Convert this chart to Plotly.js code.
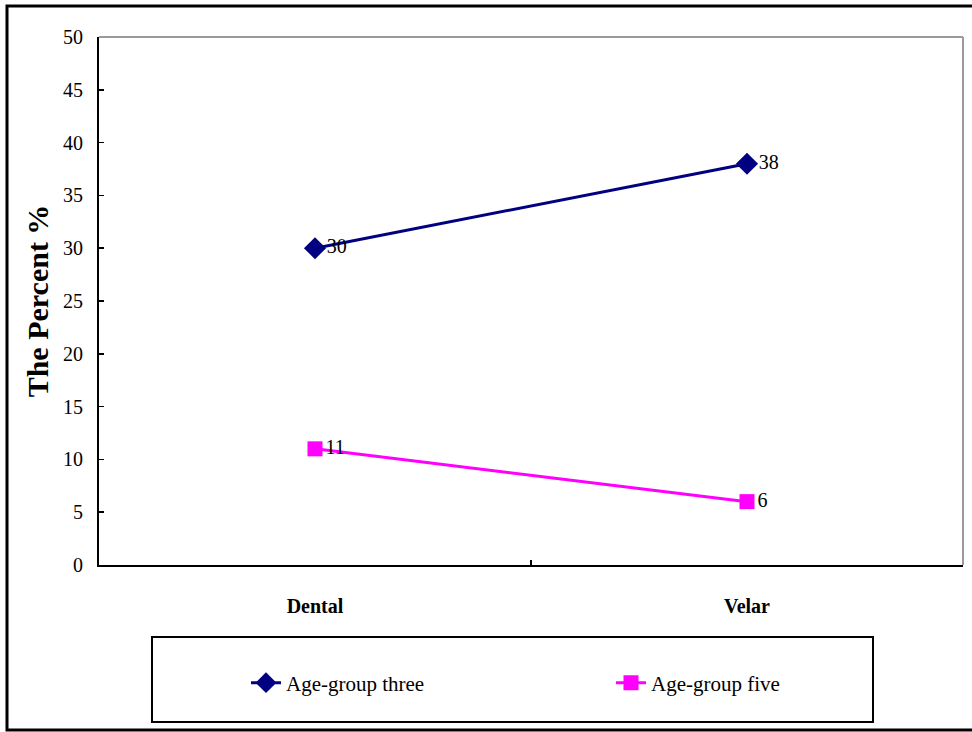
<!DOCTYPE html>
<html>
<head>
<meta charset="utf-8">
<script src="https://cdn.plot.ly/plotly-3.0.1.min.js"></script>
<style>
  html, body { margin: 0; padding: 0; background: #fff; }
  #chart { width: 972px; height: 732px; }
</style>
</head>
<body>
<div id="chart"></div>
<script>
// Share of responses by place of articulation for two age groups
const categories = ['Dental', 'Velar'];
const groupThree = [30, 38];
const groupFive = [11, 6];
const seriesNames = ['Age-group three', 'Age-group five'];

const serif = 'Liberation Serif, Times New Roman, serif';

const traces = [
  {
    x: categories,
    y: groupThree,
    name: seriesNames[0],
    type: 'scatter',
    mode: 'lines+markers+text',
    text: groupThree.map(String),
    textposition: 'middle right',
    textfont: { family: serif, size: 20, color: '#000' },
    line: { color: '#000080', width: 3 },
    marker: { symbol: 'diamond', size: 17, color: '#000080' },
    cliponaxis: false
  },
  {
    x: categories,
    y: groupFive,
    name: seriesNames[1],
    type: 'scatter',
    mode: 'lines+markers+text',
    text: groupFive.map(String),
    textposition: 'middle right',
    textfont: { family: serif, size: 20, color: '#000' },
    line: { color: '#FF00FF', width: 3 },
    marker: { symbol: 'square', size: 15, color: '#FF00FF' },
    cliponaxis: false
  }
];

// plot area: 99..963 px horizontally, 37..565 px vertically
const pw = 864, ph = 528, ml = 99, mt = 37;
const px = v => (v - ml) / pw;
const py = v => (mt + ph - v) / ph;

const layout = {
  width: 972,
  height: 732,
  margin: { l: 99, r: 9, t: 37, b: 167, autoexpand: false },
  paper_bgcolor: '#fff',
  plot_bgcolor: '#fff',
  font: { family: serif, color: '#000' },
  showlegend: true,
  xaxis: {
    type: 'category',
    range: [-0.5, 1.5],
    showgrid: false,
    zeroline: false,
    showline: true,
    linecolor: '#000',
    linewidth: 2,
    ticks: 'inside',
    tickson: 'boundaries',
    ticklen: 5,
    tickwidth: 1.5,
    tickcolor: '#000',
    ticklabelstandoff: 22,
    tickfont: { family: serif, size: 20, color: '#000', weight: 'bold' }
  },
  yaxis: {
    range: [0, 50],
    dtick: 5,
    tick0: 0,
    showgrid: false,
    zeroline: false,
    showline: true,
    linecolor: '#000',
    linewidth: 2,
    ticks: 'inside',
    ticklen: 5,
    tickwidth: 1.5,
    tickcolor: '#000',
    ticklabelstandoff: 10,
    tickfont: { family: serif, size: 20, color: '#000' },
    title: {
      text: 'The Percent %',
      font: { family: serif, size: 30, color: '#000', weight: 'bold' },
      standoff: 6
    }
  },
  legend: {
    orientation: 'h',
    x: px(246),
    xanchor: 'left',
    y: py(683),
    yanchor: 'middle',
    entrywidth: 320,
    entrywidthmode: 'pixels',
    bgcolor: 'rgba(0,0,0,0)',
    borderwidth: 0,
    font: { family: serif, size: 21, color: '#000' }
  },
  shapes: [
    // light frame on top and right of plot area
    { type: 'line', xref: 'paper', yref: 'paper', x0: 0, x1: 1, y0: 1, y1: 1,
      line: { color: '#9a9a9a', width: 2 } },
    { type: 'line', xref: 'paper', yref: 'paper', x0: 1, x1: 1, y0: 0, y1: 1,
      line: { color: '#9a9a9a', width: 2 } },
    // legend box
    { type: 'rect', xref: 'paper', yref: 'paper',
      x0: px(152), x1: px(873), y0: py(722), y1: py(637),
      line: { color: '#000', width: 2 } },
    // outer chart frame
    { type: 'rect', xref: 'paper', yref: 'paper',
      x0: px(7), x1: px(980), y0: py(730), y1: py(6),
      line: { color: '#000', width: 3 } }
  ]
};

Plotly.newPlot('chart', traces, layout, { staticPlot: true, displayModeBar: false });
</script>
</body>
</html>
